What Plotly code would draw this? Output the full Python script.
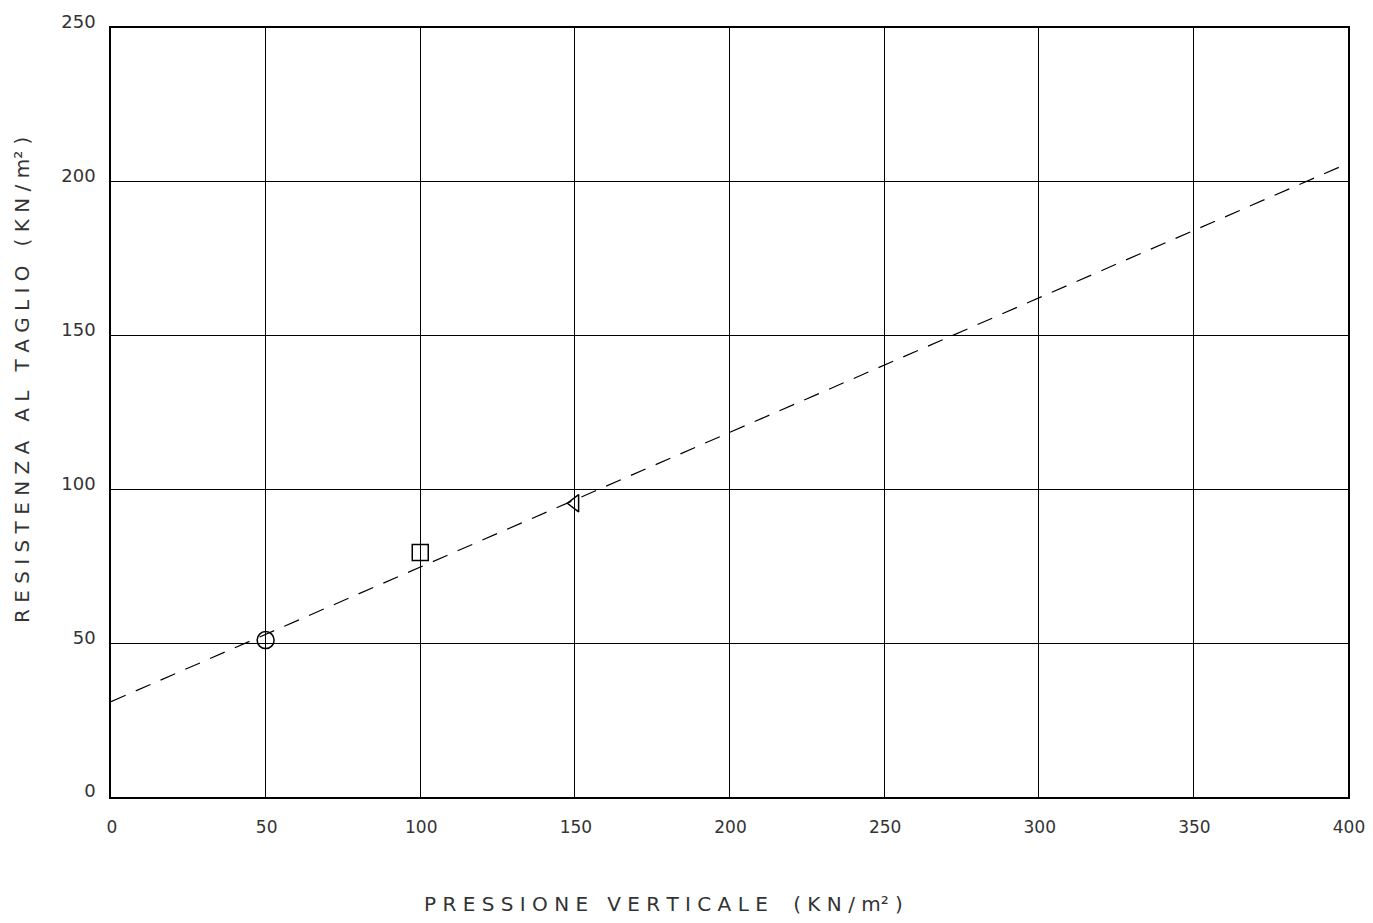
import plotly.graph_objects as go

# Data
pressione = [50, 100, 150]          # kN/m2
resistenza = [51, 79.5, 95.5]       # kN/m2
marker_symbols = ["circle-open", "square-open", "triangle-left-open"]
marker_sizes = [17, 16, 15]

# Envelope line (c ≈ 31, slope ≈ 0.4375)
line_x = [0, 400]
line_y = [31, 206]

x_ticks = [0, 50, 100, 150, 200, 250, 300, 350, 400]
y_ticks = [0, 50, 100, 150, 200, 250]

x_title = "P R E S S I O N E   V E R T I C A L E    ( K N / m² )"
y_title = "R E S I S T E N Z A   A L   T A G L I O   ( K N / m² )"

FONT = "DejaVu Sans"

# the page body adds an 8px margin; size the figure so it fits the window without scrolling
OFF = 8
W, H = 1373 - OFF, 923 - 2 * OFF
PLOT_L, PLOT_R, PLOT_T, PLOT_B = 111, 1348, 28, 797
PW, PH = PLOT_R - PLOT_L, PLOT_B - PLOT_T

fig = go.Figure()

fig.add_trace(go.Scatter(
    x=line_x, y=line_y, mode="lines",
    line=dict(color="black", width=1.2, dash="16px,11px"),
    showlegend=False, hoverinfo="skip",
))

for xv, yv, sym, sz in zip(pressione, resistenza, marker_symbols, marker_sizes):
    fig.add_trace(go.Scatter(
        x=[xv], y=[yv], mode="markers",
        marker=dict(symbol=sym, size=sz, color="black", line=dict(color="black", width=1.5)),
        showlegend=False,
    ))

fig.update_layout(
    width=W, height=H,
    margin=dict(l=PLOT_L - OFF, r=W + OFF - PLOT_R, t=PLOT_T - OFF, b=H + OFF - PLOT_B),
    paper_bgcolor="white", plot_bgcolor="white",
    font=dict(family=FONT, color="#222", size=18),
    xaxis=dict(
        range=[0, 400], tickvals=x_ticks, ticktext=[str(v) for v in x_ticks],
        showgrid=True, gridcolor="black", gridwidth=1.3,
        showline=True, linecolor="black", linewidth=1.6, mirror=True,
        zeroline=False, ticks="", ticklabelstandoff=14, ticklabelshift=1,
        ticklabeloverflow="allow", automargin=False,
        tickfont=dict(family=FONT, size=17, color="#333"),
    ),
    yaxis=dict(
        range=[0, 250], tickvals=y_ticks, ticktext=[str(v) for v in y_ticks],
        showgrid=True, gridcolor="black", gridwidth=1.3,
        showline=True, linecolor="black", linewidth=1.6, mirror=True,
        zeroline=False, ticks="", ticklabelstandoff=10, ticklabelshift=-6,
        ticklabeloverflow="allow", automargin=False,
        tickfont=dict(family=FONT, size=18, color="#333"),
    ),
    annotations=[
        dict(text=x_title, xref="paper", yref="paper", x=(663 - PLOT_L) / PW, y=-(904 - PLOT_B) / PH,
             showarrow=False, xanchor="center", yanchor="middle",
             font=dict(family=FONT, size=20, color="#333")),
        dict(text=y_title, xref="paper", yref="paper", x=-(PLOT_L - 22) / PW, y=(PLOT_B - 380) / PH,
             showarrow=False, xanchor="center", yanchor="middle", textangle=-90,
             font=dict(family=FONT, size=20, color="#333")),
    ],
)

fig.write_html("out.html")
